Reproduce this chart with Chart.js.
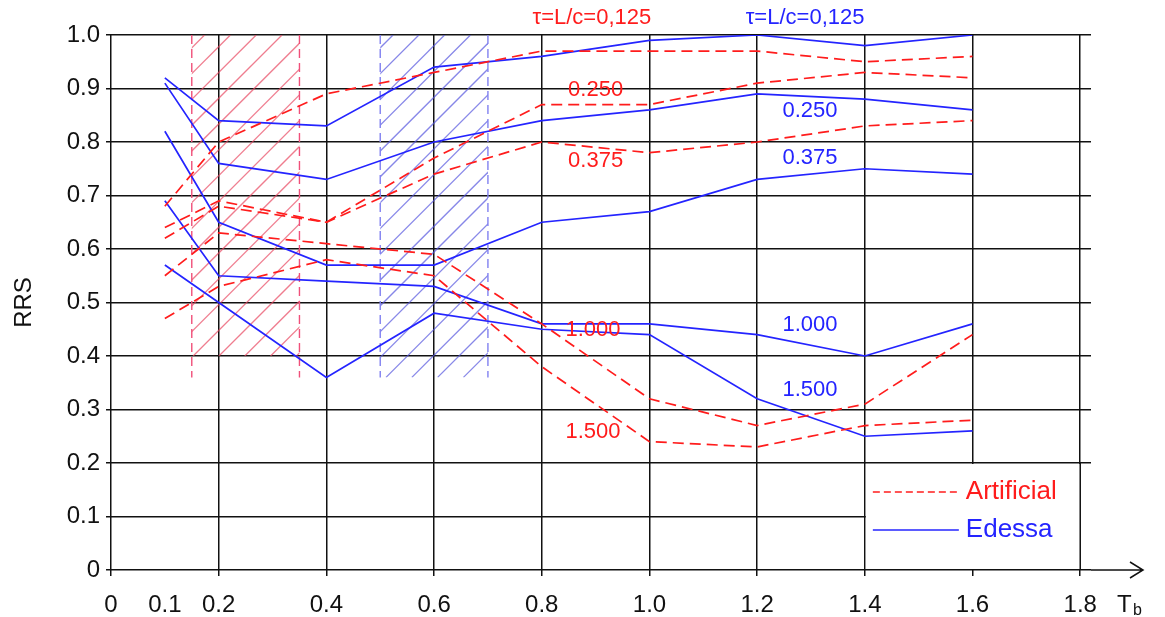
<!DOCTYPE html>
<html lang="en">
<head>
  <meta charset="UTF-8">
  <title>RRS vs Tb</title>
  <script src="https://cdn.jsdelivr.net/npm/chart.js"></script>
  <style>
    body { margin: 0; background: #fff; }
  </style>
</head>
<body>
  <canvas id="rrs" width="1165" height="617"></canvas>

  <script>
    // Tb values where every curve is sampled
    const tb = [0.1, 0.2, 0.4, 0.6, 0.8, 1.0, 1.2, 1.4, 1.6];

    // Artificial records, one list per tau = L/c
    const art0125 = [0.68, 0.80, 0.89, 0.93, 0.97, 0.97, 0.97, 0.95, 0.96];
    const art0250 = [0.64, 0.69, 0.65, 0.77, 0.87, 0.87, 0.91, 0.93, 0.92];
    const art0375 = [0.62, 0.68, 0.65, 0.74, 0.80, 0.78, 0.80, 0.83, 0.84];
    const art1000 = [0.55, 0.63, 0.61, 0.59, 0.46, 0.32, 0.27, 0.31, 0.44];
    const art1500 = [0.47, 0.53, 0.58, 0.55, 0.38, 0.24, 0.23, 0.27, 0.28];

    // Edessa record
    const ed0125 = [0.92, 0.84, 0.83, 0.94, 0.96, 0.99, 1.00, 0.98, 1.00];
    const ed0250 = [0.91, 0.76, 0.73, 0.80, 0.84, 0.86, 0.89, 0.88, 0.86];
    const ed0375 = [0.82, 0.65, 0.57, 0.57, 0.65, 0.67, 0.73, 0.75, 0.74];
    const ed1000 = [0.69, 0.55, 0.54, 0.53, 0.46, 0.46, 0.44, 0.40, 0.46];
    const ed1500 = [0.57, 0.50, 0.36, 0.48, 0.45, 0.44, 0.32, 0.25, 0.26];

    // axis ticks
    const xTicks = [0, 0.1, 0.2, 0.4, 0.6, 0.8, 1.0, 1.2, 1.4, 1.6, 1.8];
    const xTickLabels = ['0', '0.1', '0.2', '0.4', '0.6', '0.8', '1.0', '1.2', '1.4', '1.6', '1.8'];
    const yTicks = [0, 0.1, 0.2, 0.3, 0.4, 0.5, 0.6, 0.7, 0.8, 0.9, 1.0];
    const yTickLabels = ['0', '0.1', '0.2', '0.3', '0.4', '0.5', '0.6', '0.7', '0.8', '0.9', '1.0'];

    // hatched Tb bands: [x from, x to, hatch bottom, border bottom, top]
    const redBand = [0.15, 0.35, 0.40, 0.36, 1.0];
    const blueBand = [0.50, 0.70, 0.36, 0.36, 1.0];

    const RED = '#ff1c1c';
    const BLUE = '#2424ff';
    const FONT = "'Liberation Sans', Arial, sans-serif";

    // curve labels, placed in data units
    const curveLabels = [
      { text: 'τ=L/c=0,125', x: 0.893, y: 1.032, color: RED },
      { text: '0.250', x: 0.900, y: 0.897, color: RED },
      { text: '0.375', x: 0.900, y: 0.765, color: RED },
      { text: '1.000', x: 0.895, y: 0.449, color: RED },
      { text: '1.500', x: 0.895, y: 0.258, color: RED },
      { text: 'τ=L/c=0,125', x: 1.289, y: 1.032, color: BLUE },
      { text: '0.250', x: 1.298, y: 0.858, color: BLUE },
      { text: '0.375', x: 1.298, y: 0.770, color: BLUE },
      { text: '1.000', x: 1.298, y: 0.458, color: BLUE },
      { text: '1.500', x: 1.298, y: 0.336, color: BLUE }
    ];

    function series(label, vals, artificial) {
      return {
        label: label,
        data: tb.map((x, i) => ({ x: x, y: vals[i] })),
        borderColor: artificial ? RED : BLUE,
        borderWidth: 1.7,
        borderDash: artificial ? [11, 6] : [],
        pointRadius: 0,
        tension: 0,
        fill: false
      };
    }

    function drawBand(ctx, xs, ys, band, hatchColor, edgeColor) {
      const x0 = xs.getPixelForValue(band[0]);
      const x1 = xs.getPixelForValue(band[1]);
      const yHatch = ys.getPixelForValue(band[2]);
      const yEdge = ys.getPixelForValue(band[3]);
      const yTop = ys.getPixelForValue(band[4]);

      ctx.save();
      ctx.beginPath();
      ctx.rect(x0, yTop, x1 - x0, yHatch - yTop);
      ctx.clip();
      ctx.strokeStyle = hatchColor;
      ctx.lineWidth = 1.3;
      const step = 25.8;
      for (let c = x0 + yTop - 400; c < x1 + yHatch + 50; c += step) {
        ctx.beginPath();
        ctx.moveTo(c - yHatch, yHatch);
        ctx.lineTo(c - yTop, yTop);
        ctx.stroke();
      }
      ctx.restore();

      ctx.save();
      ctx.strokeStyle = edgeColor;
      ctx.lineWidth = 1.4;
      ctx.setLineDash([9, 5]);
      [x0, x1].forEach(px => {
        ctx.beginPath();
        ctx.moveTo(px, yTop);
        ctx.lineTo(px, yEdge);
        ctx.stroke();
      });
      ctx.restore();
    }

    const bandsPlugin = {
      id: 'bands',
      beforeDatasetsDraw(chart) {
        const ctx = chart.ctx;
        const xs = chart.scales.x, ys = chart.scales.y;
        drawBand(ctx, xs, ys, redBand, 'rgba(232, 70, 96, 0.7)', '#f0507a');
        drawBand(ctx, xs, ys, blueBand, 'rgba(84, 84, 222, 0.7)', '#8080f0');
      }
    };

    const extrasPlugin = {
      id: 'extras',
      afterDatasetsDraw(chart) {
        const ctx = chart.ctx;
        const xs = chart.scales.x, ys = chart.scales.y;
        const area = chart.chartArea;

        // curve labels
        ctx.save();
        ctx.font = '22px ' + FONT;
        ctx.textAlign = 'center';
        ctx.textBaseline = 'middle';
        curveLabels.forEach(l => {
          ctx.fillStyle = l.color;
          ctx.fillText(l.text, xs.getPixelForValue(l.x), ys.getPixelForValue(l.y));
        });
        ctx.restore();

        // legend box in the lower right cell block
        const lx0 = xs.getPixelForValue(1.4);
        const lx1 = xs.getPixelForValue(1.8);
        const ly0 = ys.getPixelForValue(0.2);
        const ly1 = ys.getPixelForValue(0);
        ctx.save();
        ctx.fillStyle = '#fff';
        ctx.fillRect(lx0 + 1, ly0 + 1, area.right - lx0 - 1, ly1 - ly0 - 2);
        ctx.strokeStyle = '#111';
        ctx.lineWidth = 1.5;
        ctx.beginPath();
        ctx.moveTo(lx1, ly0);
        ctx.lineTo(lx1, ly1);
        ctx.stroke();

        const rowA = ly0 + 29, rowB = ly0 + 67;
        ctx.lineWidth = 1.4;
        ctx.strokeStyle = RED;
        ctx.setLineDash([7, 4]);
        ctx.beginPath();
        ctx.moveTo(lx0 + 8, rowA);
        ctx.lineTo(lx0 + 96, rowA);
        ctx.stroke();
        ctx.setLineDash([]);
        ctx.strokeStyle = BLUE;
        ctx.beginPath();
        ctx.moveTo(lx0 + 8, rowB);
        ctx.lineTo(lx0 + 94, rowB);
        ctx.stroke();

        ctx.font = '26px ' + FONT;
        ctx.textBaseline = 'middle';
        ctx.fillStyle = RED;
        ctx.fillText('Artificial', lx0 + 101, rowA);
        ctx.fillStyle = BLUE;
        ctx.fillText('Edessa', lx0 + 101, rowB);
        ctx.restore();

        // x axis arrow and title
        const y0 = ys.getPixelForValue(0);
        const tip = area.right + 52;
        ctx.save();
        ctx.strokeStyle = '#111';
        ctx.lineWidth = 1.5;
        ctx.beginPath();
        ctx.moveTo(area.right, y0);
        ctx.lineTo(tip, y0);
        ctx.moveTo(tip - 13, y0 - 8);
        ctx.lineTo(tip, y0);
        ctx.lineTo(tip - 13, y0 + 8);
        ctx.stroke();

        ctx.fillStyle = '#111';
        ctx.textBaseline = 'middle';
        ctx.font = '24px ' + FONT;
        ctx.fillText('T', 1117, 605);
        ctx.font = '16px ' + FONT;
        ctx.fillText('b', 1133, 611);
        ctx.restore();
      }
    };

    new Chart(document.getElementById('rrs'), {
      type: 'line',
      data: {
        datasets: [
          series('Artificial 0.125', art0125, true),
          series('Artificial 0.250', art0250, true),
          series('Artificial 0.375', art0375, true),
          series('Artificial 1.000', art1000, true),
          series('Artificial 1.500', art1500, true),
          series('Edessa 0.125', ed0125, false),
          series('Edessa 0.250', ed0250, false),
          series('Edessa 0.375', ed0375, false),
          series('Edessa 1.000', ed1000, false),
          series('Edessa 1.500', ed1500, false)
        ]
      },
      options: {
        responsive: false,
        animation: false,
        layout: { padding: { top: 35, right: 74, left: 0, bottom: 0 } },
        plugins: {
          legend: { display: false },
          tooltip: { enabled: false }
        },
        scales: {
          x: {
            type: 'linear',
            min: 0,
            max: 1.82,
            afterBuildTicks(scale) {
              scale.ticks = xTicks.map(v => ({ value: v }));
            },
            afterFit(scale) { scale.height = 47; },
            border: { display: false },
            grid: {
              color: ctx => (ctx.tick && ctx.tick.value === 0.1) ? 'rgba(0,0,0,0)' : '#111',
              lineWidth: 1.5,
              tickLength: 6
            },
            ticks: {
              autoSkip: false,
              maxRotation: 0,
              padding: 15,
              color: '#111',
              font: { family: FONT, size: 24 },
              callback: (v, i) => xTickLabels[i]
            }
          },
          y: {
            min: 0,
            max: 1.0,
            afterBuildTicks(scale) {
              scale.ticks = yTicks.map(v => ({ value: v }));
            },
            afterFit(scale) { scale.width = 111; },
            border: { display: false },
            grid: { color: '#111', lineWidth: 1.5, tickLength: 5 },
            title: {
              display: true,
              text: 'RRS',
              color: '#111',
              font: { family: FONT, size: 24 },
              padding: { top: 10, bottom: 4 }
            },
            ticks: {
              padding: 6,
              color: '#111',
              font: { family: FONT, size: 24 },
              callback: (v, i) => yTickLabels[i]
            }
          }
        }
      },
      plugins: [bandsPlugin, extrasPlugin]
    });
  </script>
</body>
</html>
